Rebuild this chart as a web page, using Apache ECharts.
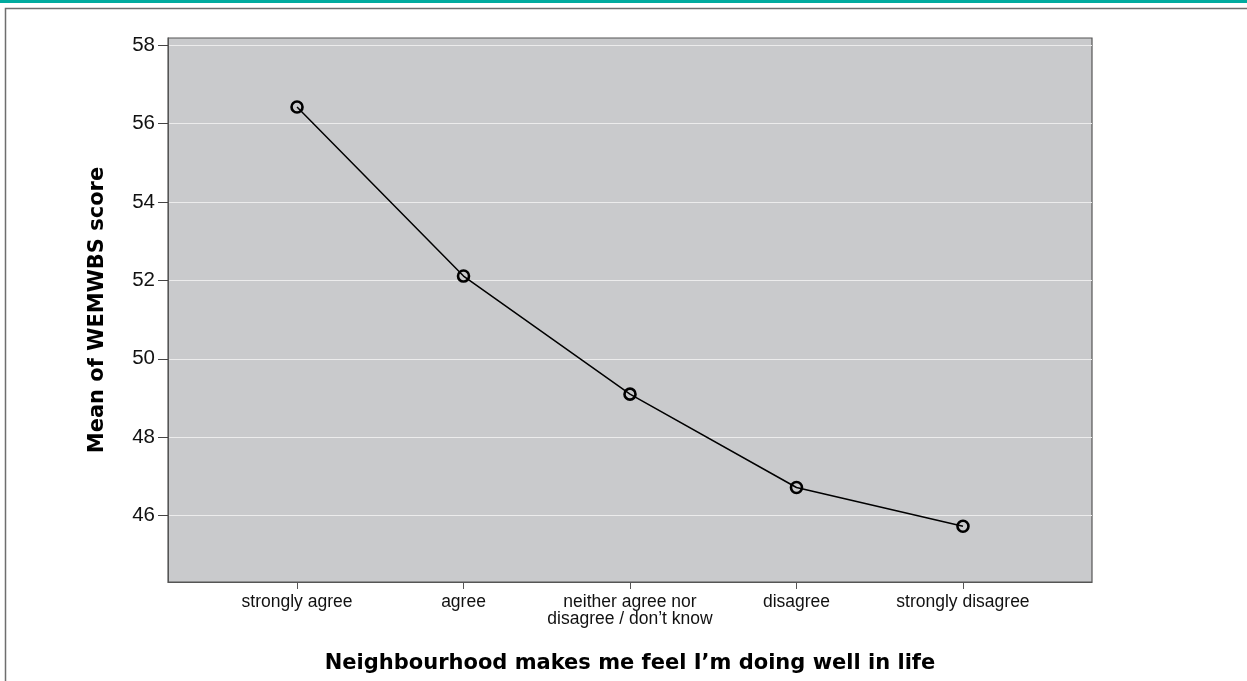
<!DOCTYPE html>
<html><head><meta charset="utf-8">
<script src="https://cdn.jsdelivr.net/npm/echarts@6/dist/echarts.min.js"></script>
<style>html,body{margin:0;padding:0;background:#fff}#c{width:1247px;height:681px}</style>
</head><body><div id="c"></div>
<script>
const categories = ['strongly agree', 'agree', 'neither agree nor\ndisagree / don\u2019t know', 'disagree', 'strongly disagree'];
const meanScores = [56.42, 52.11, 49.1, 46.72, 45.73];
const yTicks = [46, 48, 50, 52, 54, 56, 58];
const xTickIdx = [0, 1, 2, 3, 4];

const chart = echarts.init(document.getElementById('c'), null, {renderer: 'canvas'});
chart.setOption({
  animation: false,
  backgroundColor: '#fff',
  graphic: [
    {type: 'rect', shape: {x: 0, y: 0, width: 1247, height: 3}, style: {fill: '#00ab9f'}, silent: true},
    {type: 'polyline', shape: {points: [[5.5, 681], [5.5, 8.5], [1247, 8.5]]}, style: {stroke: '#6e6e6e', lineWidth: 1.5, fill: null}, silent: true}
  ],
  grid: {left: 168, top: 38, right: 155, bottom: 99, show: true, backgroundColor: '#c9cacc', borderColor: '#555', borderWidth: 1.2},
  xAxis: {
    type: 'value', min: -0.775, max: 4.775,
    name: 'Neighbourhood makes me feel I\u2019m doing well in life',
    nameLocation: 'middle', nameGap: 71,
    nameTextStyle: {fontFamily: 'DejaVu Sans', fontWeight: 'bold', fontSize: 21, color: '#000'},
    axisLine: {show: true, onZero: false, lineStyle: {color: '#555'}},
    axisTick: {show: true, customValues: xTickIdx, length: 7, lineStyle: {color: '#555'}},
    axisLabel: {customValues: xTickIdx, formatter: v => categories[Math.round(v)], fontFamily: 'Liberation Sans', fontSize: 17.5, color: '#111', margin: 12, lineHeight: 16.5},
    splitLine: {show: false}
  },
  yAxis: {
    type: 'value', min: 44.31, max: 58.18,
    name: 'Mean of WEMWBS score',
    nameLocation: 'middle', nameGap: 60, nameRotate: 90,
    nameTextStyle: {fontFamily: 'DejaVu Sans', fontWeight: 'bold', fontSize: 21, color: '#000'},
    axisLine: {show: true, onZero: false, lineStyle: {color: '#555'}},
    axisTick: {show: true, customValues: yTicks, length: 10, lineStyle: {color: '#444'}},
    axisLabel: {customValues: yTicks, fontFamily: 'Liberation Sans', fontSize: 20.5, color: '#111', margin: 13},
    splitLine: {show: true, lineStyle: {color: '#ececec', width: 1}}
  },
  series: [{
    type: 'line',
    data: meanScores.map((v, i) => [i, v]),
    symbol: 'circle', symbolSize: 11,
    itemStyle: {color: 'rgba(0,0,0,0)', borderColor: '#000', borderWidth: 2.6},
    lineStyle: {color: '#000', width: 1.5},
    z: 3
  }]
});
</script></body></html>
